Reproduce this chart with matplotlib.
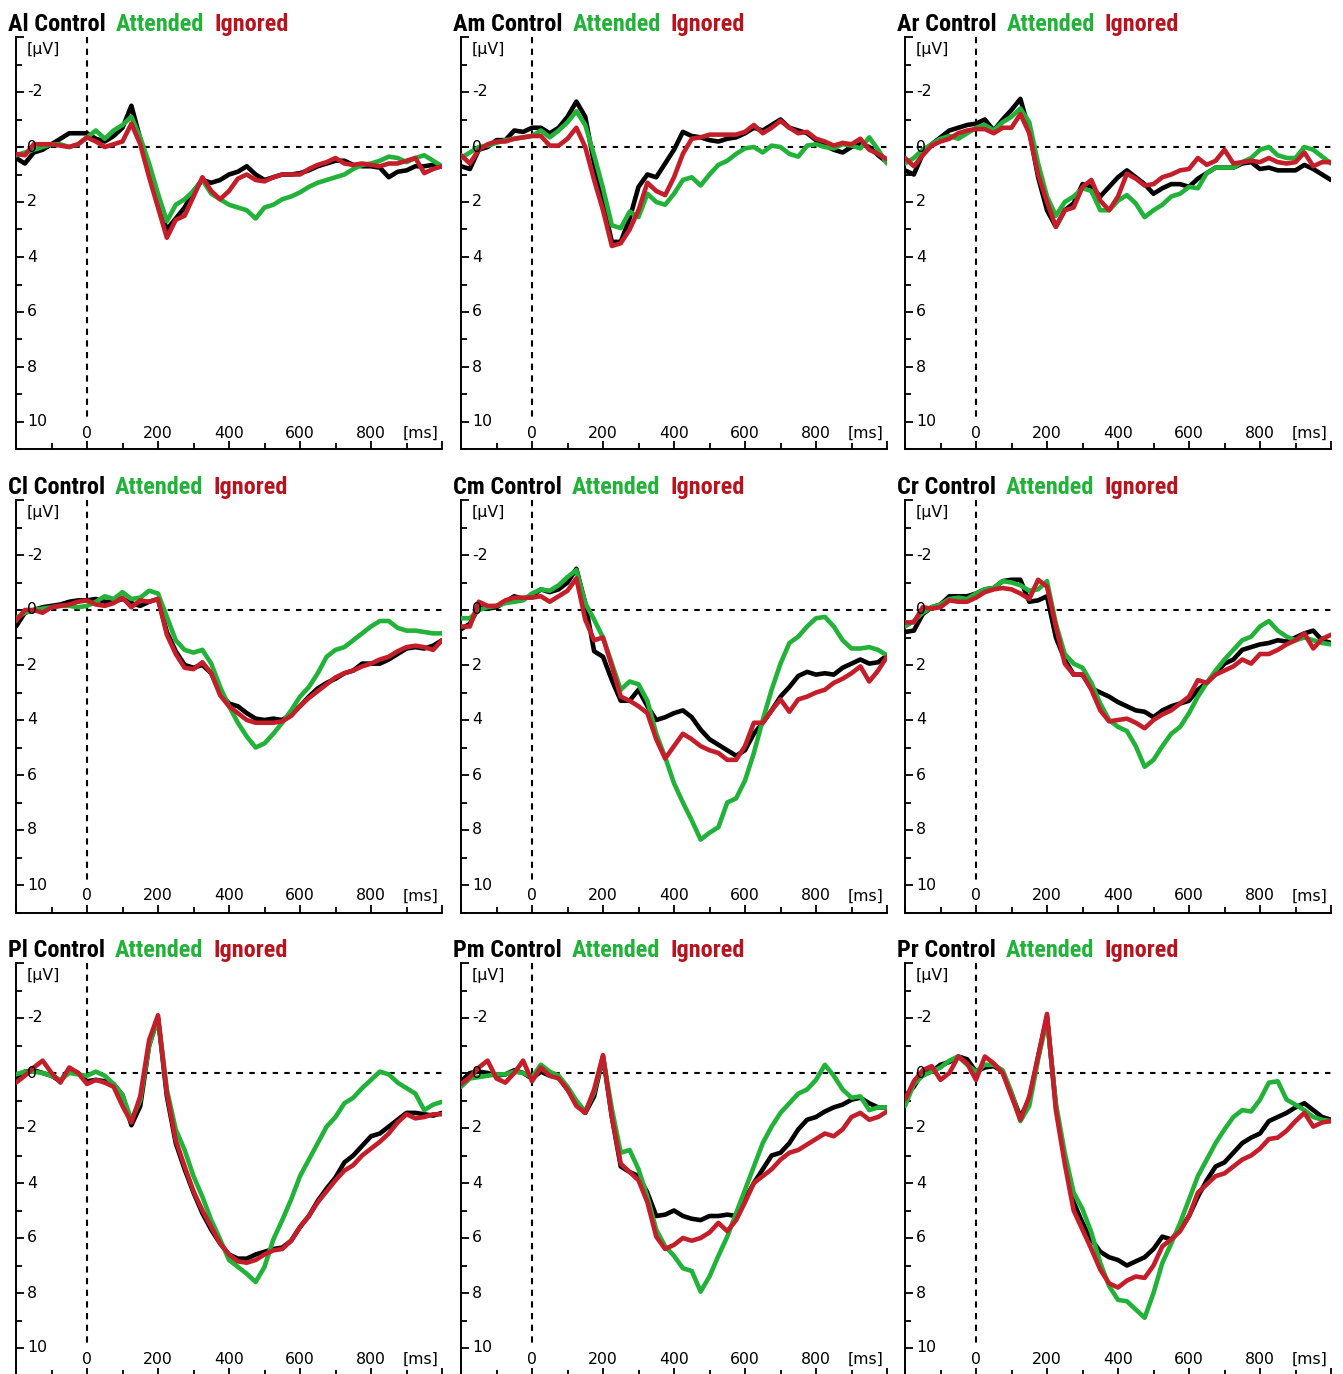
import numpy as np
import matplotlib
matplotlib.use("Agg")
import matplotlib.pyplot as plt
from matplotlib import font_manager as fm

# ---------------- data ----------------
TIME_MS = list(range(-200, 1001, 25))   # sampling grid of the read-off curves

PANELS = ["Al", "Am", "Ar", "Cl", "Cm", "Cr", "Pl", "Pm", "Pr"]
SERIES = ["Control", "Attended", "Ignored"]

al_control = [0.4, 0.6, 0.2, 0.1, -0.1, -0.3, -0.5, -0.5, -0.5, -0.3, -0.2, -0.4, -0.7, -1.5, -0.3, 1.0, 2.1, 3.0, 2.6, 2.2, 1.6, 1.2, 1.3, 1.2, 1.0, 0.9, 0.7, 1.0, 1.2, 1.1, 1.0, 1.0, 0.95, 0.85, 0.7, 0.6, 0.5, 0.5, 0.65, 0.7, 0.7, 0.75, 1.1, 0.9, 0.85, 0.7, 0.7, 0.65, 0.7]
al_attended = [0.3, 0.2, 0.1, 0.0, -0.1, -0.1, 0.0, -0.1, -0.35, -0.6, -0.3, -0.6, -0.8, -1.1, -0.35, 0.6, 1.7, 2.7, 2.1, 1.9, 1.6, 1.2, 1.7, 1.9, 2.1, 2.2, 2.3, 2.6, 2.2, 2.1, 1.9, 1.8, 1.65, 1.45, 1.3, 1.2, 1.1, 1.0, 0.8, 0.65, 0.6, 0.5, 0.35, 0.4, 0.55, 0.4, 0.3, 0.5, 0.7]
al_ignored = [0.25, 0.3, -0.1, -0.1, -0.1, -0.05, 0.0, -0.1, -0.35, -0.2, 0.0, -0.1, -0.2, -0.85, -0.1, 1.1, 2.2, 3.3, 2.65, 2.5, 1.8, 1.1, 1.6, 1.9, 1.6, 1.15, 1.0, 1.2, 1.25, 1.1, 1.0, 1.0, 1.0, 0.8, 0.65, 0.55, 0.4, 0.6, 0.65, 0.6, 0.65, 0.7, 0.6, 0.6, 0.5, 0.4, 0.95, 0.8, 0.7]

am_control = [0.7, 0.8, 0.1, 0.0, -0.25, -0.25, -0.6, -0.55, -0.7, -0.7, -0.5, -0.7, -1.1, -1.65, -1.1, 0.6, 2.05, 3.45, 3.45, 2.6, 1.45, 1.0, 1.1, 0.6, 0.1, -0.55, -0.4, -0.35, -0.25, -0.2, -0.3, -0.35, -0.5, -0.7, -0.6, -0.8, -1.0, -0.7, -0.6, -0.5, -0.25, -0.05, 0.1, 0.2, 0.0, -0.1, 0.0, 0.3, 0.55]
am_attended = [0.4, 0.2, 0.0, -0.05, -0.15, -0.25, -0.3, -0.35, -0.4, -0.6, -0.35, -0.6, -0.9, -1.3, -0.8, 0.3, 1.5, 2.85, 2.95, 2.35, 2.55, 1.7, 2.0, 2.1, 1.7, 1.2, 1.1, 1.4, 1.0, 0.65, 0.5, 0.25, 0.05, 0.0, 0.2, -0.05, 0.0, 0.25, 0.35, -0.05, -0.1, 0.0, 0.05, -0.1, -0.05, 0.05, -0.35, 0.1, 0.6]
am_ignored = [0.3, 0.6, 0.1, -0.1, -0.2, -0.2, -0.3, -0.35, -0.4, -0.4, -0.05, -0.05, -0.3, -0.7, 0.0, 1.2, 2.3, 3.6, 3.5, 3.0, 2.3, 1.3, 1.6, 1.75, 1.1, 0.25, -0.3, -0.35, -0.45, -0.45, -0.45, -0.45, -0.55, -0.8, -0.5, -0.7, -0.95, -0.7, -0.5, -0.55, -0.3, -0.2, -0.05, -0.15, -0.1, -0.3, 0.1, 0.25, 0.45]

ar_control = [0.85, 1.0, 0.25, -0.1, -0.35, -0.6, -0.7, -0.8, -0.85, -1.0, -0.6, -1.0, -1.35, -1.75, -0.6, 1.1, 2.3, 2.9, 2.3, 2.05, 1.35, 1.45, 1.8, 1.45, 1.1, 0.85, 1.1, 1.35, 1.7, 1.5, 1.35, 1.35, 1.45, 1.15, 0.95, 0.75, 0.75, 0.75, 0.6, 0.55, 0.8, 0.75, 0.85, 0.85, 0.85, 0.65, 0.8, 1.0, 1.2]
ar_attended = [0.6, 0.4, 0.1, -0.1, -0.3, -0.4, -0.3, -0.5, -0.7, -0.8, -0.6, -0.9, -1.1, -1.4, -0.9, 0.6, 1.8, 2.5, 2.0, 1.8, 1.5, 1.6, 2.3, 2.3, 1.95, 1.75, 2.05, 2.55, 2.3, 2.1, 1.8, 1.7, 1.45, 1.5, 0.95, 0.75, 0.75, 0.75, 0.55, 0.4, 0.1, 0.0, 0.3, 0.4, 0.4, 0.0, 0.1, 0.35, 0.6]
ar_ignored = [0.4, 0.7, 0.3, -0.05, -0.2, -0.3, -0.5, -0.6, -0.65, -0.65, -0.5, -0.7, -0.7, -1.2, -0.5, 1.0, 2.0, 2.9, 2.3, 2.2, 1.45, 1.2, 1.95, 2.3, 1.8, 0.97, 1.15, 1.4, 1.35, 1.1, 1.0, 0.85, 0.8, 0.4, 0.65, 0.5, 0.1, 0.6, 0.55, 0.5, 0.55, 0.4, 0.55, 0.6, 0.55, 0.2, 0.7, 0.55, 0.55]

cl_control = [0.6, 0.1, 0.0, -0.1, -0.15, -0.2, -0.3, -0.35, -0.35, -0.4, -0.3, -0.3, -0.4, -0.25, -0.15, -0.3, -0.4, 0.8, 1.5, 2.0, 2.1, 2.0, 2.3, 3.0, 3.4, 3.5, 3.75, 3.95, 4.0, 3.95, 4.0, 3.8, 3.5, 3.15, 2.85, 2.65, 2.5, 2.3, 2.2, 1.95, 1.95, 1.95, 1.8, 1.6, 1.4, 1.35, 1.4, 1.3, 1.1]
cl_attended = [0.3, 0.1, 0.0, -0.05, -0.1, -0.15, -0.15, -0.1, -0.15, -0.3, -0.5, -0.4, -0.65, -0.4, -0.45, -0.7, -0.6, 0.25, 1.1, 1.45, 1.55, 1.45, 1.95, 2.8, 3.5, 4.1, 4.6, 5.0, 4.85, 4.5, 4.1, 3.65, 3.15, 2.8, 2.3, 1.7, 1.45, 1.35, 1.1, 0.85, 0.6, 0.4, 0.4, 0.65, 0.75, 0.75, 0.8, 0.85, 0.85]
cl_ignored = [0.4, 0.0, 0.0, 0.1, -0.1, -0.15, -0.2, -0.3, -0.35, -0.2, -0.15, -0.25, -0.45, -0.1, -0.35, -0.3, -0.4, 0.9, 1.6, 2.1, 2.15, 1.9, 2.3, 3.1, 3.5, 3.75, 4.0, 4.1, 4.1, 4.1, 4.05, 3.85, 3.5, 3.2, 2.95, 2.7, 2.45, 2.3, 2.2, 2.05, 1.95, 1.8, 1.7, 1.5, 1.35, 1.3, 1.35, 1.45, 1.1]

cm_control = [0.7, 0.5, -0.1, -0.05, -0.1, -0.3, -0.5, -0.4, -0.5, -0.75, -0.65, -0.75, -1.0, -1.5, -0.25, 1.5, 1.7, 2.55, 3.3, 3.3, 2.9, 3.5, 4.0, 3.9, 3.75, 3.65, 3.9, 4.35, 4.7, 4.9, 5.1, 5.3, 5.1, 4.5, 4.1, 3.65, 3.15, 2.8, 2.4, 2.25, 2.35, 2.3, 2.35, 2.1, 1.95, 1.8, 1.95, 1.9, 1.65]
cm_attended = [0.3, 0.3, 0.0, -0.1, -0.15, -0.25, -0.3, -0.35, -0.6, -0.75, -0.7, -0.9, -1.2, -1.45, -0.25, 0.35, 1.0, 1.95, 2.9, 2.6, 2.7, 3.3, 4.5, 5.35, 6.3, 7.0, 7.65, 8.35, 8.1, 7.9, 7.0, 6.85, 6.2, 5.2, 4.0, 2.9, 1.95, 1.2, 0.97, 0.6, 0.3, 0.25, 0.6, 1.1, 1.4, 1.4, 1.35, 1.45, 1.65]
cm_ignored = [0.6, 0.6, -0.3, -0.15, -0.15, -0.35, -0.45, -0.45, -0.45, -0.5, -0.3, -0.5, -0.7, -1.15, 0.35, 1.1, 1.0, 2.05, 3.15, 3.3, 3.5, 3.75, 4.7, 5.4, 4.95, 4.5, 4.7, 4.95, 5.1, 5.2, 5.45, 5.45, 4.95, 4.1, 4.1, 3.65, 3.25, 3.7, 3.25, 3.15, 3.0, 2.9, 2.65, 2.5, 2.3, 2.05, 2.6, 2.2, 1.7]

cr_control = [0.8, 0.75, 0.15, -0.1, -0.2, -0.5, -0.5, -0.5, -0.6, -0.75, -0.8, -1.05, -1.1, -1.1, -0.3, -0.35, -0.5, 1.0, 1.8, 2.35, 2.35, 2.85, 3.0, 3.15, 3.35, 3.5, 3.65, 3.7, 3.9, 3.65, 3.5, 3.4, 3.3, 2.9, 2.65, 2.3, 1.95, 1.8, 1.45, 1.35, 1.25, 1.2, 1.1, 1.15, 1.0, 0.85, 0.75, 1.1, 1.2]
cr_attended = [0.6, 0.4, 0.1, -0.1, -0.2, -0.4, -0.45, -0.4, -0.6, -0.75, -0.8, -1.05, -1.0, -0.9, -0.7, -0.75, -1.05, 0.5, 1.6, 1.95, 2.1, 2.65, 3.4, 4.0, 4.25, 4.4, 4.95, 5.7, 5.45, 4.95, 4.5, 4.25, 3.75, 3.15, 2.65, 2.2, 1.8, 1.45, 1.1, 0.97, 0.6, 0.4, 0.75, 0.97, 1.1, 1.0, 1.1, 1.2, 1.25]
cr_ignored = [0.45, 0.45, -0.1, -0.05, -0.1, -0.35, -0.3, -0.3, -0.45, -0.65, -0.75, -0.8, -0.75, -0.6, -0.4, -1.1, -0.85, 0.6, 1.95, 2.35, 2.35, 2.9, 3.65, 4.05, 4.0, 3.95, 4.1, 4.3, 4.0, 3.8, 3.65, 3.4, 3.15, 2.55, 2.65, 2.35, 2.2, 2.05, 1.8, 1.95, 1.6, 1.6, 1.45, 1.25, 1.1, 0.85, 1.4, 1.05, 0.9]

pl_control = [0.2, -0.05, -0.1, 0.0, 0.1, 0.3, -0.15, 0.0, 0.3, 0.25, 0.3, 0.4, 0.8, 1.9, 1.2, -1.0, -2.0, 0.85, 2.55, 3.5, 4.35, 5.1, 5.7, 6.2, 6.6, 6.75, 6.75, 6.6, 6.5, 6.4, 6.35, 6.1, 5.6, 5.2, 4.65, 4.2, 3.8, 3.25, 3.0, 2.65, 2.3, 2.2, 1.95, 1.7, 1.45, 1.45, 1.5, 1.55, 1.45]
pl_attended = [0.05, -0.05, -0.05, 0.0, 0.1, 0.25, 0.0, 0.05, 0.1, -0.05, 0.1, 0.4, 0.8, 1.7, 1.0, -1.0, -2.0, 0.6, 2.05, 2.8, 3.75, 4.5, 5.35, 6.05, 6.8, 7.05, 7.3, 7.6, 7.05, 6.05, 5.35, 4.6, 3.75, 3.15, 2.55, 1.95, 1.6, 1.1, 0.9, 0.55, 0.25, -0.05, 0.05, 0.35, 0.55, 0.75, 1.35, 1.15, 1.05]
pl_ignored = [0.35, 0.1, -0.2, -0.45, 0.0, 0.35, -0.2, 0.0, 0.4, 0.25, 0.35, 0.5, 1.2, 1.8, 0.85, -1.2, -2.1, 0.75, 2.45, 3.4, 4.3, 5.0, 5.6, 6.2, 6.6, 6.85, 6.9, 6.8, 6.6, 6.45, 6.4, 6.1, 5.6, 5.2, 4.7, 4.3, 3.9, 3.55, 3.35, 3.0, 2.75, 2.5, 2.2, 1.8, 1.5, 1.65, 1.6, 1.5, 1.5]

pm_control = [0.3, 0.0, -0.05, 0.0, 0.1, 0.05, -0.1, 0.0, 0.2, -0.05, 0.1, 0.15, 0.6, 1.1, 1.45, 0.85, -0.6, 1.6, 3.4, 3.6, 3.75, 4.35, 5.2, 5.15, 5.0, 5.2, 5.3, 5.35, 5.2, 5.2, 5.15, 5.2, 4.6, 4.0, 3.5, 3.0, 2.9, 2.55, 2.05, 1.7, 1.6, 1.4, 1.25, 1.15, 0.97, 0.9, 1.1, 1.25, 1.25]
pm_attended = [0.5, 0.2, 0.15, 0.1, 0.05, 0.05, -0.05, 0.0, 0.15, -0.3, -0.05, 0.1, 0.5, 1.0, 1.4, 0.7, -0.6, 1.3, 2.9, 2.8, 3.5, 4.5, 5.7, 6.3, 6.65, 7.1, 7.2, 7.95, 7.4, 6.65, 5.95, 5.1, 4.25, 3.4, 2.55, 1.95, 1.45, 1.1, 0.75, 0.6, 0.25, -0.3, 0.1, 0.6, 0.9, 0.85, 1.35, 1.25, 1.25]
pm_ignored = [0.4, 0.15, -0.2, -0.45, 0.2, 0.35, 0.0, -0.45, 0.3, -0.2, 0.1, 0.2, 0.6, 1.2, 1.45, 0.6, -0.65, 1.6, 3.3, 3.6, 3.9, 4.7, 5.95, 6.4, 6.25, 6.0, 6.1, 6.0, 5.8, 5.45, 5.75, 5.35, 4.7, 4.0, 3.75, 3.5, 3.15, 2.9, 2.8, 2.6, 2.4, 2.2, 2.3, 2.05, 1.6, 1.45, 1.7, 1.6, 1.4]

pr_control = [0.85, 0.5, -0.05, -0.05, -0.3, -0.4, -0.6, -0.5, -0.05, -0.2, -0.25, -0.05, 0.75, 1.6, 0.97, -0.6, -2.05, 1.2, 3.15, 4.7, 5.45, 6.05, 6.5, 6.7, 6.8, 7.0, 6.85, 6.7, 6.4, 5.95, 6.05, 5.7, 5.2, 4.5, 3.9, 3.4, 3.25, 2.9, 2.55, 2.35, 2.2, 1.75, 1.6, 1.45, 1.25, 1.1, 1.35, 1.6, 1.7]
pr_attended = [1.2, 0.4, 0.1, -0.05, -0.2, -0.45, -0.6, -0.3, -0.05, -0.3, -0.3, -0.1, 0.7, 1.75, 1.2, -0.5, -1.95, 1.1, 2.9, 4.35, 4.95, 5.8, 6.9, 7.75, 8.25, 8.3, 8.6, 8.9, 8.0, 6.9, 6.2, 5.45, 4.6, 3.75, 3.15, 2.55, 2.05, 1.6, 1.35, 1.4, 0.97, 0.35, 0.3, 0.97, 1.15, 1.35, 1.6, 1.7, 1.75]
pr_ignored = [0.97, 0.3, -0.1, -0.25, 0.25, 0.0, -0.6, -0.35, 0.25, -0.6, -0.35, 0.0, 0.85, 1.7, 0.85, -0.6, -2.15, 1.35, 3.3, 5.0, 5.7, 6.4, 7.15, 7.65, 7.8, 7.55, 7.4, 7.45, 7.0, 6.3, 6.05, 5.75, 5.2, 4.35, 4.05, 3.75, 3.65, 3.4, 3.15, 3.0, 2.75, 2.4, 2.35, 2.1, 1.75, 1.45, 1.95, 1.8, 1.75]

DATA = {
    "Al": (al_control, al_attended, al_ignored),
    "Am": (am_control, am_attended, am_ignored),
    "Ar": (ar_control, ar_attended, ar_ignored),
    "Cl": (cl_control, cl_attended, cl_ignored),
    "Cm": (cm_control, cm_attended, cm_ignored),
    "Cr": (cr_control, cr_attended, cr_ignored),
    "Pl": (pl_control, pl_attended, pl_ignored),
    "Pm": (pm_control, pm_attended, pm_ignored),
    "Pr": (pr_control, pr_attended, pr_ignored),
}

YTICK_LABELS = [-2, 0, 2, 4, 6, 8, 10]
XTICK_LABELS = [0, 200, 400, 600, 800]

# ---------------- style ----------------
W, H = 1343, 1374
COLORS = ["#000000", "#22b23a", "#c41e2a"]
TITLE_COLORS = ["#000000", "#22b23a", "#b8141f"]
TICK_FONT = "DejaVu Sans"
TITLE_GAP = 10          # px between the coloured title words
TITLE_SPAN = 282        # px, total width of "Al Control Attended Ignored"


def _num(v, table, default):
    if isinstance(v, str):
        return table.get(v, default)
    try:
        return int(v)
    except Exception:
        return default


def pick_title_font():
    """Prefer a narrow / condensed bold sans face (Arial Narrow look-alike)."""
    entries = fm.fontManager.ttflist
    bold = [f for f in entries if _num(f.weight, fm.weight_dict, 400) >= 600
            and f.style == "normal"]
    for f in bold:
        if f.name == "Liberation Sans Narrow":
            return fm.FontProperties(fname=f.fname)
    for fam in ("Roboto Condensed", "Open Sans Condensed", "Noto Sans Condensed",
                "Noto Sans", "DejaVu Sans", "Open Sans", "Roboto"):
        for f in bold:
            if (f.name == fam or f.name.startswith(fam)) and \
                    _num(f.stretch, fm.stretch_dict, 500) <= 300:
                return fm.FontProperties(fname=f.fname)
    for f in bold:
        if "Condensed" in f.name or "Narrow" in f.name:
            return fm.FontProperties(fname=f.fname)
    return fm.FontProperties(family="Liberation Sans", weight="bold")


fig = plt.figure(figsize=(W / 100, H / 100), dpi=100)
fig.patch.set_facecolor("white")
renderer = fig.canvas.get_renderer()

# size the title font so that the three title words span ~282 px
title_fp = pick_title_font()
pw = 0.0
for part in ["Al " + SERIES[0], SERIES[1], SERIES[2]]:
    probe = fig.text(0, 0, part, fontproperties=title_fp, fontsize=14)
    pw += probe.get_window_extent(renderer=renderer).width
    probe.remove()
TITLE_SIZE = min(18.0, 14 * (TITLE_SPAN - 2 * TITLE_GAP) / max(pw, 1))

col_left = [16, 461, 905]        # px, left spine
row_top = [37, 500, 963]         # px, top of axes
title_x = [8, 453, 897]
title_base = [31, 494, 957]
AX_W, AX_H = 426, 412.5

t = np.array(TIME_MS, dtype=float)

for i, name in enumerate(PANELS):
    r, c = divmod(i, 3)
    left = col_left[c] / W
    bottom = 1 - (row_top[r] + AX_H) / H
    ax = fig.add_axes([left, bottom, AX_W / W, AX_H / H])
    ax.set_xlim(-200, 1000)
    ax.set_ylim(11, -4)
    for s in ["top", "right"]:
        ax.spines[s].set_visible(False)
    for s in ["left", "bottom"]:
        ax.spines[s].set_linewidth(1.4)
    ax.set_xticks(range(-200, 1001, 200))
    ax.set_xticks(range(-100, 1001, 200), minor=True)
    ax.set_yticks(range(-4, 11, 2))
    ax.set_yticks(range(-3, 12, 2), minor=True)
    ax.tick_params(axis="both", which="both", direction="in",
                   labelbottom=False, labelleft=False, width=1.3)
    ax.tick_params(axis="both", which="major", length=6)
    ax.tick_params(axis="both", which="minor", length=4)

    # reference dashed lines
    ax.axhline(0, color="black", lw=1.5, ls=(0, (2.6, 3.0)), zorder=1)
    ax.plot([0, 0], [-4, 9.9], color="black", lw=1.5, ls=(0, (3.0, 2.6)), zorder=1)

    for vals, col in zip(DATA[name], COLORS):
        assert len(vals) == len(TIME_MS)
        ax.plot(t, vals, color=col, lw=3.3, solid_joinstyle="round",
                solid_capstyle="round", zorder=3)

    # tick labels inside the axes
    for yv in YTICK_LABELS:
        ax.text(-169, yv, f"{yv}", fontsize=11.3, family=TICK_FONT,
                ha="left", va="center", zorder=4)
    for xv in XTICK_LABELS:
        ax.text(xv, 10.4, f"{xv}", fontsize=11.3, family=TICK_FONT,
                ha="center", va="center", zorder=4)
    ax.text(-169, -3.53, "[µV]", fontsize=11.3, family=TICK_FONT,
            ha="left", va="center")
    ax.text(941, 10.4, "[ms]", fontsize=11.3, family=TICK_FONT,
            ha="center", va="center")

    # multi-coloured title
    x = title_x[c] / W
    yb = 1 - title_base[r] / H
    parts = [f"{name} {SERIES[0]}", SERIES[1], SERIES[2]]
    for part, tc in zip(parts, TITLE_COLORS):
        txt = fig.text(x, yb, part, color=tc, fontproperties=title_fp,
                       fontsize=TITLE_SIZE, ha="left", va="baseline")
        bb = txt.get_window_extent(renderer=renderer)
        x = (bb.x1 + TITLE_GAP) / W

fig.savefig("out.png", dpi=100, facecolor="white")
